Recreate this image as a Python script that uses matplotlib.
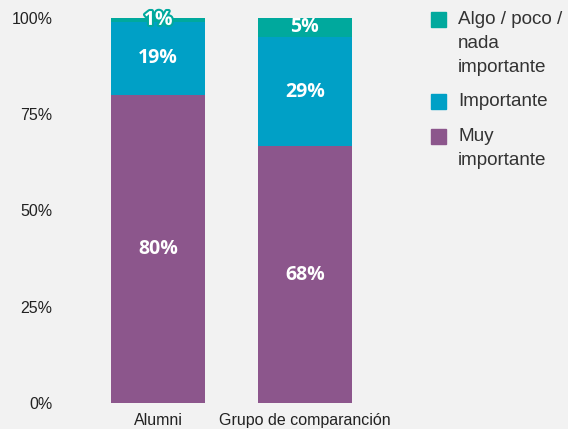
import numpy as np
import matplotlib.pyplot as plt
from matplotlib.patches import Rectangle
import matplotlib.patheffects as pe

plt.rcParams['font.family'] = ['Liberation Sans', 'DejaVu Sans']

categories = ['Alumni', 'Grupo de comparanción']
series = ['Muy\nimportante', 'Importante', 'Algo / poco /\nnada\nimportante']
muy = [80, 68]
importante = [19, 29]
algo = [1, 5]
colors = ['#8C568C', '#00A0C6', '#00A99D']
yticks = [0, 25, 50, 75, 100]

W, H = 568, 429
fig = plt.figure(figsize=(W / 100, H / 100), dpi=100, facecolor='#f2f2f2')
ax = fig.add_axes([85 / W, 26 / H, 293 / W, 385 / H])
ax.set_facecolor('#f2f2f2')

vals = np.array([muy, importante, algo], dtype=float)
totals = vals.sum(axis=0)
share = vals / totals * 100
x = np.arange(len(categories))
bottom = np.zeros(len(categories))
for i in range(len(series)):
    ax.bar(x, share[i], 0.64, bottom=bottom, color=colors[i])
    for j in range(len(categories)):
        yc = bottom[j] + share[i][j] / 2
        t = ax.text(x[j], yc, f'{int(vals[i][j])}%', ha='center', va='center',
                    color='white', fontsize=14, fontweight='bold',
                    family=['Open Sans', 'DejaVu Sans'])
        if share[i][j] < 3:
            t.set_path_effects([pe.withStroke(linewidth=3, foreground=colors[i])])
    bottom += share[i]

ax.set_xlim(-0.5, 1.5)
ax.set_ylim(0, 100)
ax.set_yticks(yticks)
ax.set_yticklabels([f'{v}%' for v in yticks])
ax.set_xticks(x)
ax.set_xticklabels(categories)
ax.tick_params(length=0, labelsize=11.5, colors='#222222')
ax.tick_params(axis='y', pad=23.5)
ax.tick_params(axis='x', pad=7)
for s in ax.spines.values():
    s.set_visible(False)

# legend drawn by hand so the swatch sits on the first text line
leg_tops = [11, 93, 128]
for k, i in enumerate([2, 1, 0]):
    top = leg_tops[k]
    fig.patches.append(Rectangle((431 / W, 1 - (top + 16) / H), 15 / W, 15 / H,
                                 transform=fig.transFigure, color=colors[i]))
    fig.text(458 / W, 1 - top / H, series[i], ha='left', va='top',
             fontsize=13.6, color='#333333', linespacing=1.55)

fig.savefig('out.png', dpi=100, facecolor=fig.get_facecolor())
